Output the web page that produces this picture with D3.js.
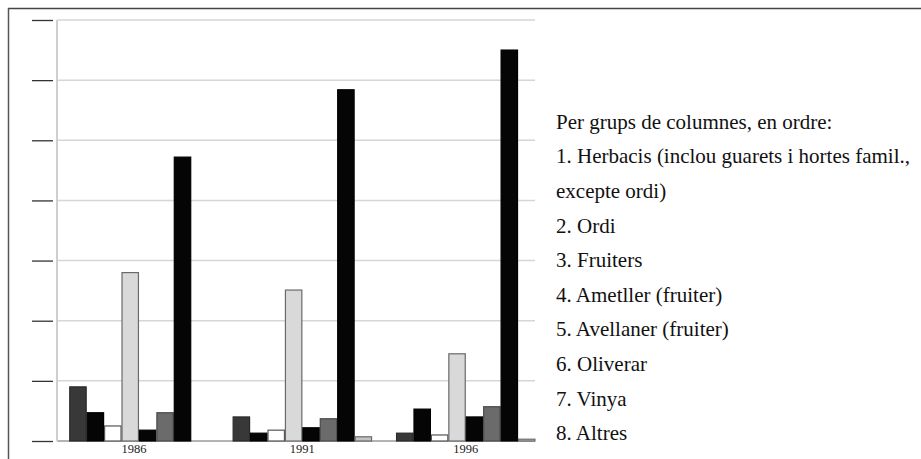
<!DOCTYPE html>
<html>
<head>
<meta charset="utf-8">
<script src="https://cdn.jsdelivr.net/npm/d3@7"></script>
<style>
  body { margin: 0; background: #fff; }
  svg { display: block; }
</style>
</head>
<body>
<svg id="chart"></svg>
<script>
// years (column groups)
var years = ['1986', '1991', '1996'];

// one array per crop, values per year (arbitrary units)
var herbacis  = [9.0, 4.0, 1.3];
var ordi      = [4.7, 1.3, 5.3];
var fruiters  = [2.5, 1.8, 1.0];
var ametller  = [28.0, 25.1, 14.5];
var avellaner = [1.8, 2.2, 4.0];
var oliverar  = [4.7, 3.7, 5.7];
var vinya     = [47.2, 58.4, 65.0];
var altres    = [0, 0.7, 0.3];

var seriesValues = [herbacis, ordi, fruiters, ametller, avellaner, oliverar, vinya, altres];
var fills   = ['#383838', '#050505', '#ffffff', '#d9d9d9', '#050505', '#6b6b6b', '#050505', '#c4c4c4'];
var strokes = ['#2a2a2a', '#000000', '#555555', '#6a6a6a', '#000000', '#4a4a4a', '#000000', '#6a6a6a'];

var yTicks = [0, 10, 20, 30, 40, 50, 60, 70];

var legendTitle = 'Per grups de columnes, en ordre:';
var legendLines = [
    '1. Herbacis (inclou guarets i hortes famil.,',
    'excepte ordi)',
    '2. Ordi',
    '3. Fruiters',
    '4. Ametller (fruiter)',
    '5. Avellaner (fruiter)',
    '6. Oliverar',
    '7. Vinya',
    '8. Altres'
];

var svgWidth = 921, svgHeight = 459;
var plot = {left: 57, right: 535, top: 20, bottom: 441};

var svg = d3.select('#chart')
    .attr('width', svgWidth)
    .attr('height', svgHeight);

// outer frame (top and left edges only)
svg.append('line')
    .attr('x1', 8).attr('x2', svgWidth)
    .attr('y1', 8.5).attr('y2', 8.5)
    .attr('stroke', '#444').attr('stroke-width', 1.5);
svg.append('line')
    .attr('x1', 8.5).attr('x2', 8.5)
    .attr('y1', 8).attr('y2', svgHeight)
    .attr('stroke', '#555').attr('stroke-width', 1.5);

var y = d3.scaleLinear()
    .domain([0, 70])
    .range([plot.bottom, plot.top]);

var x0 = d3.scaleBand()
    .domain(years)
    .range([plot.left, 547.7])
    .paddingInner(0.147)
    .paddingOuter(0.075);

var x1 = d3.scaleBand()
    .domain(d3.range(seriesValues.length))
    .range([0, x0.bandwidth()]);

// gridlines
svg.append('g')
    .selectAll('line')
    .data(yTicks)
    .join('line')
    .attr('x1', plot.left).attr('x2', plot.right)
    .attr('y1', function(d){ return y(d); })
    .attr('y2', function(d){ return y(d); })
    .attr('stroke', function(d){ return d === 0 ? '#9a9a9a' : '#d6d6d6'; })
    .attr('stroke-width', 1.5);

svg.append('line')
    .attr('x1', plot.left).attr('x2', plot.left)
    .attr('y1', plot.top).attr('y2', plot.bottom)
    .attr('stroke', '#cfcfcf').attr('stroke-width', 2);

// tick marks on the left, no labels
svg.append('g')
    .attr('transform', 'translate(53,0)')
    .call(d3.axisLeft(y).tickValues(yTicks).tickSize(21).tickFormat(''))
    .call(function(g){ g.select('.domain').remove(); })
    .selectAll('.tick line')
    .attr('stroke', '#333')
    .attr('stroke-width', 1.3);

// bars
var groups = svg.append('g')
    .selectAll('g')
    .data(years)
    .join('g')
    .attr('transform', function(d){ return 'translate(' + x0(d) + ',0)'; });

groups.selectAll('rect')
    .data(function(d, yi){
        return seriesValues.map(function(s, si){ return {si: si, value: s[yi]}; });
    })
    .join('rect')
    .filter(function(d){ return d.value > 0; })
    .attr('x', function(d){ return x1(d.si) + 0.5; })
    .attr('y', function(d){ return y(d.value); })
    .attr('width', x1.bandwidth() - 1)
    .attr('height', function(d){ return plot.bottom - y(d.value); })
    .attr('fill', function(d){ return fills[d.si]; })
    .attr('stroke', function(d){ return strokes[d.si]; })
    .attr('stroke-width', 1.2);

// year labels
svg.append('g')
    .selectAll('text')
    .data(years)
    .join('text')
    .attr('x', function(d){ return x0(d) + x0.bandwidth() / 2 - (d === '1986' ? 5 : 0); })
    .attr('y', 453)
    .attr('text-anchor', 'middle')
    .attr('font-family', "'Liberation Serif', serif")
    .attr('font-size', 12.5)
    .attr('fill', '#222')
    .text(function(d){ return d; });

// legend text
var legend = svg.append('g')
    .attr('font-family', "'Liberation Serif', serif")
    .attr('font-size', 21)
    .attr('fill', '#111');

legend.selectAll('text')
    .data([legendTitle].concat(legendLines))
    .join('text')
    .attr('x', 556)
    .attr('y', function(d, i){ return 128.7 + i * 34.6; })
    .text(function(d){ return d; });
</script>
</body>
</html>
